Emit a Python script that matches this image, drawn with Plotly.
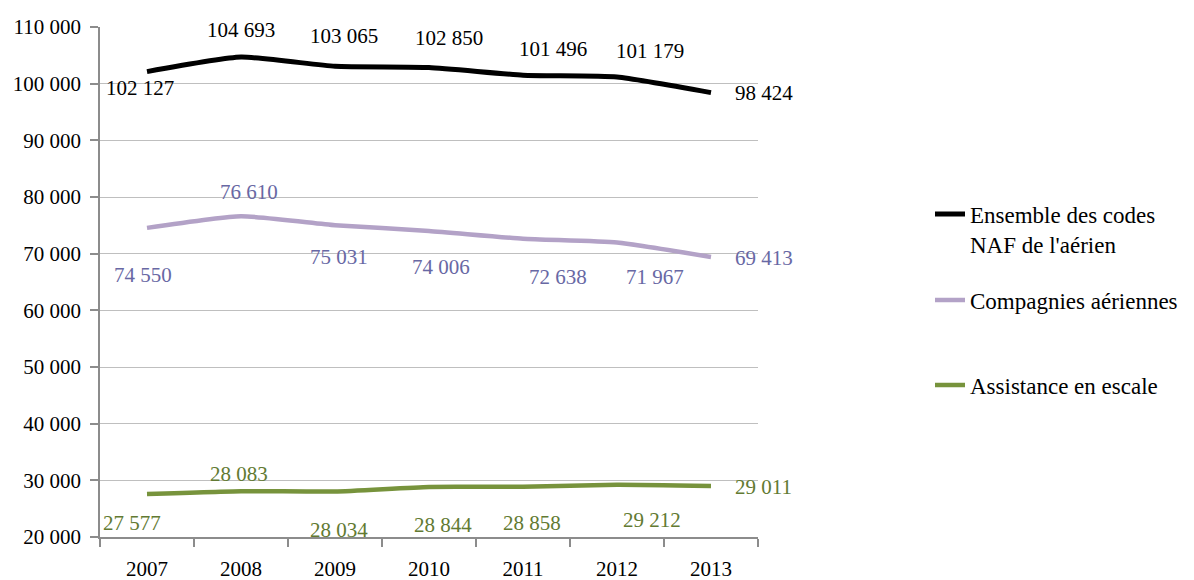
import plotly.graph_objects as go

years = [2007, 2008, 2009, 2010, 2011, 2012, 2013]
ensemble = [102127, 104693, 103065, 102850, 101496, 101179, 98424]
compagnies = [74550, 76610, 75031, 74006, 72638, 71967, 69413]
assistance = [27577, 28083, 28034, 28844, 28858, 29212, 29011]

names = ["Ensemble des codes<br>NAF de l'aérien", "Compagnies aériennes", "Assistance en escale"]
line_colors = ["#000000", "#b3a2c7", "#77933c"]
label_colors = ["#000000", "#6868a4", "#627a32"]
line_widths = [5, 4.5, 4.5]

# label offsets (xshift, yshift) in pixels, per series per point
offsets = [
    [(-7, -16), (0, 27), (9, 30), (20, 30), (30, 26), (33, 26), (22, 0)],
    [(-4, -47), (8, 24), (4, -32), (12, -36), (35, -38), (38, -34), (22, -1)],
    [(-15, -29), (-2, 17), (4, -39), (14, -38), (9, -36), (35, -35), (22, -1)],
]

series = [ensemble, compagnies, assistance]
legend_ids = ["legend", "legend2", "legend3"]

FONT = "Liberation Serif"
FS = 21
FS_LEG = 23

# the page adds an 8px body margin; size the figure so it ends at the window edge
W, H = 1186, 572
OFF = 8

fig = go.Figure()
annotations = []
for i, vals in enumerate(series):
    fig.add_trace(go.Scatter(
        x=years, y=vals, mode="lines", name=names[i],
        line=dict(color=line_colors[i], width=line_widths[i], shape="spline", smoothing=0.5),
        legend=legend_ids[i], showlegend=True, hoverinfo="skip",
    ))
    for j, (yr, v) in enumerate(zip(years, vals)):
        dx, dy = offsets[i][j]
        annotations.append(dict(
            x=yr, y=v, xref="x", yref="y", showarrow=False,
            text=f"{v:,}".replace(",", " "),
            xanchor="left" if j == len(years) - 1 else "center",
            yanchor="middle",
            xshift=dx, yshift=dy,
            font=dict(family=FONT, size=FS, color=label_colors[i]),
        ))

leg_common = dict(
    xref="container", yref="container",
    xanchor="left", yanchor="middle", bgcolor="rgba(0,0,0,0)",
    font=dict(family=FONT, size=FS_LEG, color="#000000"),
    itemwidth=30, borderwidth=0,
)
leg_x = (930 - OFF) / W

fig.update_layout(
    width=W, height=H,
    margin=dict(l=100 - OFF, r=W - (758 - OFF), t=27 - OFF, b=H - (537 - OFF), autoexpand=False),
    paper_bgcolor="white", plot_bgcolor="white",
    separators=", ",
    showlegend=True,
    font=dict(family=FONT, size=FS, color="#000000"),
    annotations=annotations,
    legend=dict(x=leg_x, y=1 - (229 - OFF) / H, valign="top", **leg_common),
    legend2=dict(x=leg_x, y=1 - (300 - OFF) / H, **leg_common),
    legend3=dict(x=leg_x, y=1 - (385 - OFF) / H, **leg_common),
    xaxis=dict(
        range=[2006.5, 2013.5], tickvals=years, ticktext=[str(y) for y in years],
        showgrid=False, zeroline=False, automargin=False,
        showline=True, linecolor="#8c8c8c", linewidth=1.5,
        ticks="outside", ticklen=12, tickcolor="rgba(0,0,0,0)",
        minor=dict(ticks="outside", ticklen=8, tickcolor="#8c8c8c", tickwidth=1.5,
                   tick0=2006.5, dtick=1, showgrid=False),
        tickfont=dict(family=FONT, size=FS, color="#000000"),
    ),
    yaxis=dict(
        range=[20000, 110000], dtick=10000, tickformat=",d",
        showgrid=True, gridcolor="#bfbfbf", gridwidth=1.2,
        zeroline=False, automargin=False,
        showline=True, linecolor="#8c8c8c", linewidth=1.5,
        ticks="outside", ticklen=8, tickcolor="#8c8c8c", tickwidth=1.5,
        ticklabelstandoff=5,
        tickfont=dict(family=FONT, size=FS, color="#000000"),
    ),
)

fig.write_html("out.html")
